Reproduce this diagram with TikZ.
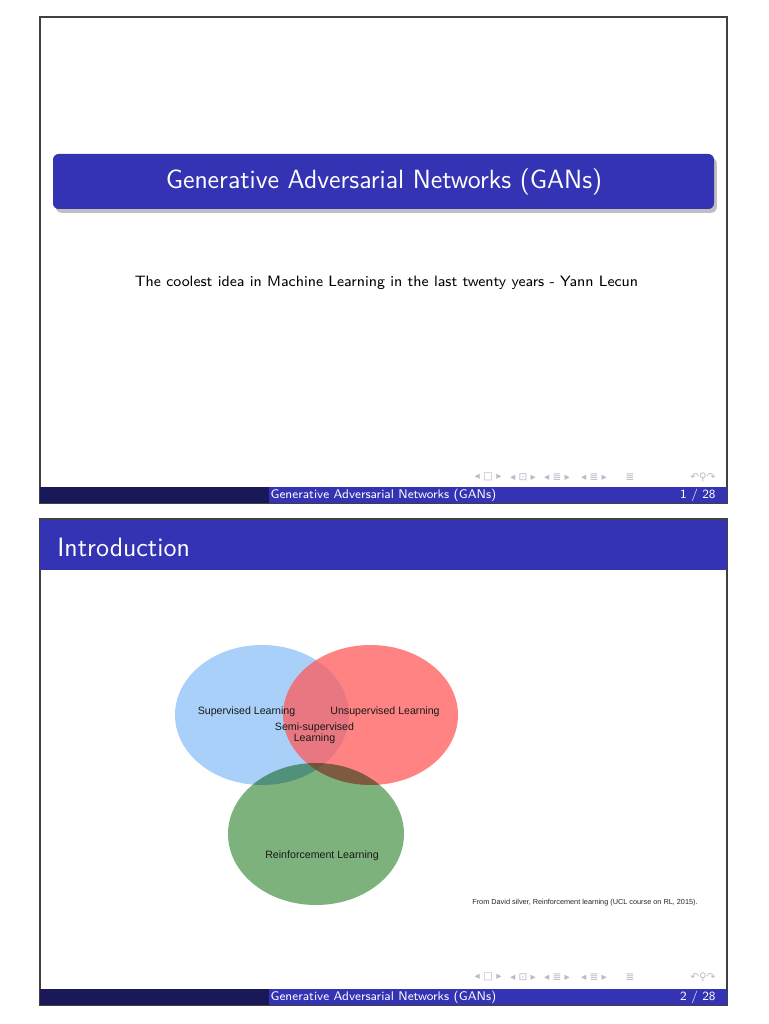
\documentclass[tikz,border=0pt]{standalone}
\usepackage{fontspec}
\newfontfamily\arialfont{Liberation Sans}
\newfontfamily\navfont{DejaVu Sans}
\usetikzlibrary{shadows}
\definecolor{structblue}{RGB}{51,51,179}
\definecolor{footdark}{RGB}{25,25,89}
\definecolor{supblue}{RGB}{168,208,248}
\definecolor{unsupred}{RGB}{255,90,90}
\definecolor{reingreen}{RGB}{125,178,125}
\definecolor{navgray}{RGB}{185,185,200}
\tikzset{
  slide/.style={draw=black!75,line width=0.7pt},
  foottext/.style={text=white,font=\sffamily\fontsize{6.6}{7}\selectfont,inner sep=0},
  navsym/.style={text=navgray,font=\navfont\fontsize{5.5}{6}\selectfont,inner sep=0},
  vennlabel/.style={text=black!90,font=\arialfont\fontsize{5.6}{5.6}\selectfont,inner sep=0,align=center},
}
\begin{document}
\begin{tikzpicture}[x=0.527pt,y=-0.527pt]
\useasboundingbox[fill=white] (0,0) rectangle (768,1024);
\draw[slide] (40,17) rectangle (727,503);
\fill[structblue,rounded corners=3pt,drop shadow={opacity=0.5,shadow xshift=1.5pt,shadow yshift=-2pt}] (53,154) rectangle (714,209);
\node[text=white,font=\sffamily\fontsize{13.9}{16}\selectfont] (title) at (384,182) {Generative Adversarial Networks (GANs)};
\node[font=\sffamily\fontsize{7.9}{10}\selectfont] (quote) at (386.5,283) {The coolest idea in Machine Learning in the last twenty years - Yann Lecun};
\node[navsym] (nav1a) at (488,477) {◂ □ ▸};
\node[navsym] (nav1b) at (523,477) {◂ ⊡ ▸};
\node[navsym] (nav1c) at (557,477) {◂ ≣ ▸};
\node[navsym] (nav1d) at (594,477) {◂ ≣ ▸};
\node[navsym] (nav1e) at (630,477) {≣};
\node[navsym] (nav1f) at (703,477) {↶⚲↷};
\fill[footdark] (40,487) rectangle (269,503);
\fill[structblue] (269,487) rectangle (727,503);
\node[foottext] (foot1) at (383.5,495) {Generative Adversarial Networks (GANs)};
\node[foottext,anchor=east] (page1) at (716,495) {1 / 28};
\draw[slide] (40,519) rectangle (727,1005);
\fill[structblue] (40,520) rectangle (727,570);
\node[anchor=west,inner sep=0,text=white,font=\sffamily\fontsize{14}{16}\selectfont] (frametitle) at (57,547) {Introduction};
\fill[supblue] (262,715) ellipse [x radius=87,y radius=70];
\fill[unsupred,opacity=0.75] (370.5,715) ellipse [x radius=87.5,y radius=70];
\fill[reingreen,blend mode=multiply] (316,834) ellipse [x radius=88,y radius=71];
\node[vennlabel] (sup) at (246.5,712) {Supervised Learning};
\node[vennlabel] (unsup) at (385,712) {Unsupervised Learning};
\node[vennlabel] (semi) at (314.5,733.5) {Semi-supervised\\Learning};
\node[vennlabel] (rein) at (322,855.5) {Reinforcement Learning};
\node[text=black!85,font=\arialfont\fontsize{3.85}{4}\selectfont,inner sep=0] (cite) at (585,903) {From David silver, Reinforcement learning (UCL course on RL, 2015).};
\node[navsym] (nav2a) at (488,977) {◂ □ ▸};
\node[navsym] (nav2b) at (523,977) {◂ ⊡ ▸};
\node[navsym] (nav2c) at (557,977) {◂ ≣ ▸};
\node[navsym] (nav2d) at (594,977) {◂ ≣ ▸};
\node[navsym] (nav2e) at (630,977) {≣};
\node[navsym] (nav2f) at (703,977) {↶⚲↷};
\fill[footdark] (40,989) rectangle (269,1005);
\fill[structblue] (269,989) rectangle (727,1005);
\node[foottext] (foot2) at (383.5,997) {Generative Adversarial Networks (GANs)};
\node[foottext,anchor=east] (page2) at (716,997) {2 / 28};
\end{tikzpicture}
\end{document}
